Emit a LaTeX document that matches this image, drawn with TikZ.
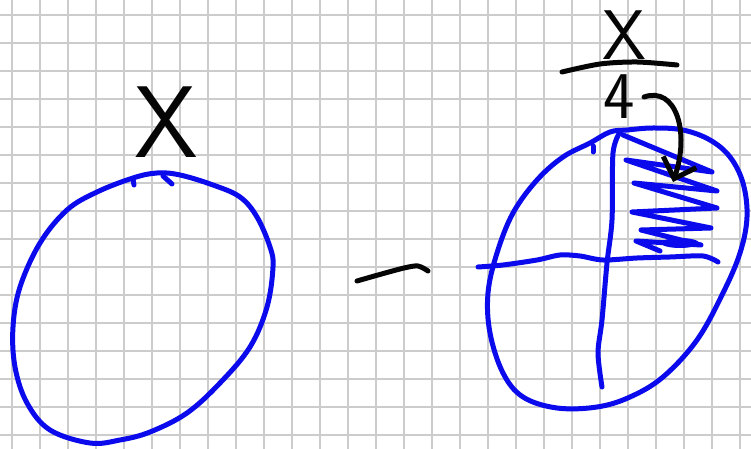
\documentclass[tikz,border=0pt]{standalone}
\usepackage{fontspec}
\usetikzlibrary{arrows.meta, calc}
\definecolor{PenBlue}{rgb}{0.04, 0.04, 0.93}
\definecolor{PenBlack}{rgb}{0.02, 0.02, 0.02}
\definecolor{GridGray}{rgb}{0.8, 0.8, 0.8}

\begin{document}
\begin{tikzpicture}[
    x=0.02cm, y=-0.02cm,
    gridline/.style={draw=GridGray, line width=0.04cm},
    pen/.style={draw=PenBlue, line width=0.1cm, line cap=round, line join=round},
    ink/.style={draw=PenBlack, line width=0.1cm, line cap=round, line join=round},
    hand/.style={inner sep=0pt, text=PenBlack},
    flow/.style={-{Straight Barb[length=3.5mm, width=7mm]}, ink},
]

% hoja cuadriculada
\useasboundingbox (0,0) rectangle (751,449);
\fill[white] (0,0) rectangle (751,449);
\foreach \gx in {12,40,...,740} \draw[gridline] (\gx,0) -- (\gx,449);
\foreach \gy in {15,43,...,435} \draw[gridline] (0,\gy) -- (751,\gy);

% circulo entero
\node[hand, font=\sffamily\fontsize{58}{60}\selectfont] (xleft) at (166,122) {X};
\draw[pen] plot[smooth cycle, tension=0.6] coordinates {
    (157,173) (133,178) (97,192) (67,210) (40,243) (20,287) (13,327)
    (15,367) (27,403) (50,430) (90,443) (120,440) (150,432) (187,413)
    (220,383) (250,347) (267,307) (273,267) (270,247) (257,217)
    (240,197) (213,185) (180,175)};
\draw[pen] (133,179) -- (134,185);
\draw[pen] (163,176) -- (172,184);

% menos
\draw[ink] plot[smooth, tension=0.5] coordinates {
    (357,281) (378,275) (404,268) (418,266) (428,271)};

% circulo partido en cuartos
\draw[pen] plot[smooth cycle, tension=0.6] coordinates {
    (627,130) (610,132) (590,143) (563,157) (537,180) (513,213)
    (497,253) (488,293) (490,333) (503,373) (523,397) (557,408)
    (597,407) (630,397) (663,377) (697,340) (723,293) (740,253)
    (747,217) (743,183) (730,157) (710,140) (683,130) (653,128)};
\draw[pen] (593,146) -- (593,152);
\draw[pen] plot[smooth] coordinates {
    (478,267) (503,265) (537,260) (560,255) (580,256) (603,260)
    (637,258) (670,257) (703,256) (718,262)};
\draw[pen] plot[smooth] coordinates {
    (620,132) (613,153) (612,220) (607,263) (602,320) (598,353) (602,387)};

% cuarto rayado
\draw[pen] plot coordinates {
    (623,135) (712,172) (626,160) (717,191) (634,183) (717,208)
    (632,212) (711,228) (641,230) (701,245) (636,241) (660,251)};
\fill[PenBlue] (680,243) ellipse [x radius=0.38cm, y radius=0.1cm];

% x/4
\node[hand, font=\sffamily\fontsize{40}{42}\selectfont] (xtop) at (624,35) {X};
\draw[ink] plot[smooth] coordinates {(562,72) (600,64) (637,62) (677,65)};
\node[hand, font=\sffamily\fontsize{38}{40}\selectfont] (four) at (619,97) {4};

\coordinate (shade) at (673,182);
\draw[flow] ($(four.east)+(9,0)$) .. controls (676,86) and (690,132) .. (shade);

\end{tikzpicture}
\end{document}
